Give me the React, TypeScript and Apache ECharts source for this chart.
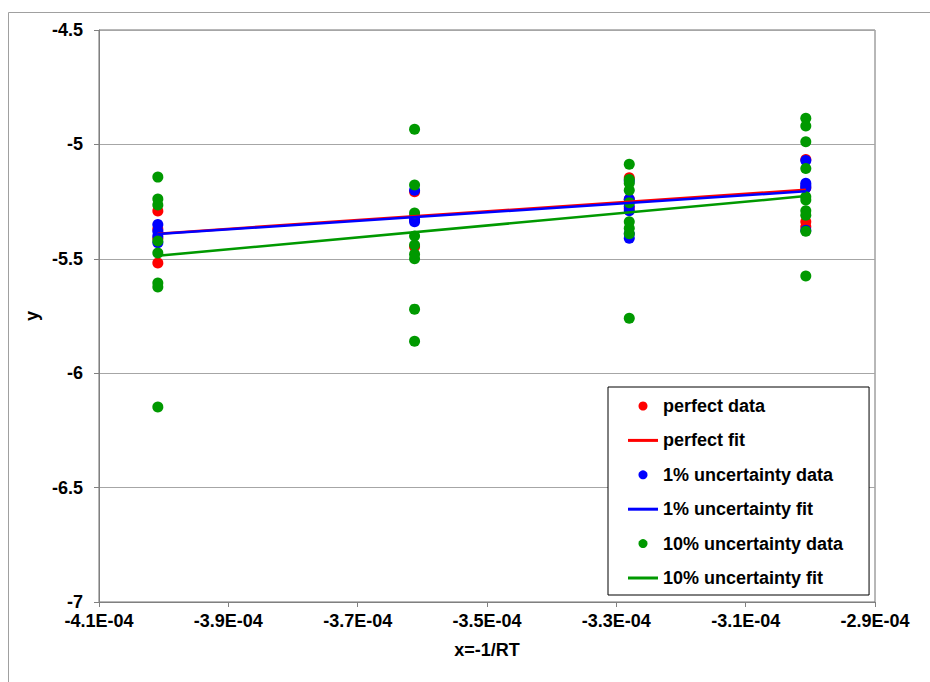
import React, { useEffect, useRef } from "react";
import * as echarts from "echarts";

// x = -1/RT for the four temperatures
const xValues = [-4.009e-4, -3.612e-4, -3.28e-4, -3.007e-4];

// y values measured at each x (one inner list per x)
const perfectData = [
  [-5.291, -5.37, -5.41, -5.518],
  [-5.207, -5.33, -5.447],
  [-5.146, -5.24, -5.28],
  [-5.066, -5.19, -5.338, -5.36],
];
const onePctData = [
  [-5.35, -5.38, -5.4, -5.43],
  [-5.2, -5.315, -5.328, -5.338],
  [-5.16, -5.24, -5.27, -5.29, -5.39, -5.41],
  [-5.07, -5.17, -5.18, -5.19, -5.375],
];
const tenPctData = [
  [-5.143, -5.239, -5.265, -5.422, -5.475, -5.606, -5.623, -6.148],
  [-4.934, -5.177, -5.3, -5.4, -5.44, -5.48, -5.5, -5.72, -5.86],
  [-5.087, -5.153, -5.17, -5.2, -5.255, -5.338, -5.367, -5.39, -5.76],
  [-4.886, -4.92, -4.988, -5.105, -5.229, -5.243, -5.29, -5.31, -5.38, -5.575],
];

// fitted line end points (at first and last x)
const perfectFit = [-5.39, -5.198];
const onePctFit = [-5.392, -5.205];
const tenPctFit = [-5.487, -5.226];

const seriesNames = [
  "perfect data",
  "perfect fit",
  "1% uncertainty data",
  "1% uncertainty fit",
  "10% uncertainty data",
  "10% uncertainty fit",
];

const RED = "#ff0000";
const BLUE = "#0000ff";
const GREEN = "#009900";
const FONT = '"Liberation Sans", Arial, sans-serif';
// plain stroke used as the legend key of a fitted line
const LINE_KEY = "path://M0,0 L30,0 L30,3 L0,3 Z";

function points(groups: number[][]) {
  const out: number[][] = [];
  groups.forEach((ys, i) => ys.forEach((y) => out.push([xValues[i], y])));
  return out;
}

function fitLine(ends: number[]) {
  return [
    [xValues[0], ends[0]],
    [xValues[xValues.length - 1], ends[1]],
  ];
}

function sci(v: number) {
  const [m, e] = v.toExponential(1).split("e");
  const n = parseInt(e, 10);
  return m + "E" + (n < 0 ? "-" : "+") + String(Math.abs(n)).padStart(2, "0");
}

export default function App() {
  const ref = useRef<HTMLDivElement>(null);

  useEffect(() => {
    if (!ref.current) return;
    const chart = echarts.init(ref.current, null, { renderer: "svg" });

    const scatter = (name: string, color: string, groups: number[][]) => ({
      name,
      type: "scatter",
      symbol: "circle",
      symbolSize: 11,
      itemStyle: { color, opacity: 1 },
      data: points(groups),
    });
    const line = (name: string, color: string, ends: number[]) => ({
      name,
      type: "line",
      symbol: "none",
      showSymbol: false,
      lineStyle: { color, width: 2.5 },
      itemStyle: { color },
      data: fitLine(ends),
    });

    chart.setOption({
      animation: false,
      backgroundColor: "#ffffff",
      textStyle: { fontFamily: FONT },
      graphic: [
        {
          type: "rect",
          z: -1,
          shape: { x: 8.5, y: 12.5, width: 960, height: 720 },
          style: { fill: "none", stroke: "#a0a0a0", lineWidth: 1 },
        },
      ],
      grid: {
        left: 99,
        top: 30,
        right: 55,
        bottom: 80,
        show: true,
        borderColor: "#707070",
        borderWidth: 1,
      },
      legend: {
        orient: "vertical",
        left: 608,
        top: 387,
        data: seriesNames.map((name, i) =>
          i % 2 === 0 ? { name, icon: "circle" } : { name, icon: LINE_KEY }
        ),
        itemWidth: 30,
        itemHeight: 9,
        itemGap: 14.4,
        padding: [9, 26, 7, 20],
        borderColor: "#000000",
        borderWidth: 1,
        backgroundColor: "#ffffff",
        selectedMode: false,
        textStyle: {
          fontFamily: FONT,
          fontSize: 18,
          fontWeight: "bold",
          color: "#000000",
          lineHeight: 20,
        },
      },
      xAxis: {
        type: "value",
        min: -4.1e-4,
        max: -2.9e-4,
        interval: 2e-5,
        name: "x=-1/RT",
        nameLocation: "middle",
        nameGap: 39,
        nameTextStyle: { fontFamily: FONT, fontSize: 18, fontWeight: "bold", color: "#000" },
        axisLine: { show: true, lineStyle: { color: "#808080", width: 1 } },
        axisTick: { show: true, inside: false, length: 5, lineStyle: { color: "#808080" } },
        splitLine: { show: false },
        axisLabel: {
          margin: 10,
          fontFamily: FONT,
          fontSize: 18,
          fontWeight: "bold",
          color: "#000",
          formatter: (v: number) => sci(v),
        },
      },
      yAxis: {
        type: "value",
        min: -7,
        max: -4.5,
        interval: 0.5,
        name: "y",
        nameLocation: "middle",
        nameGap: 55,
        nameTextStyle: { fontFamily: FONT, fontSize: 18, fontWeight: "bold", color: "#000" },
        axisLine: { show: true, lineStyle: { color: "#808080", width: 1 } },
        axisTick: { show: true, inside: false, length: 5, lineStyle: { color: "#808080" } },
        splitLine: { show: true, lineStyle: { color: "#a6a6a6", width: 1 } },
        axisLabel: {
          margin: 16,
          fontFamily: FONT,
          fontSize: 18,
          fontWeight: "bold",
          color: "#000",
        },
      },
      series: [
        scatter(seriesNames[0], RED, perfectData),
        line(seriesNames[1], RED, perfectFit),
        scatter(seriesNames[2], BLUE, onePctData),
        line(seriesNames[3], BLUE, onePctFit),
        scatter(seriesNames[4], GREEN, tenPctData),
        line(seriesNames[5], GREEN, tenPctFit),
      ],
    });

    return () => chart.dispose();
  }, []);

  return (
    <div
      ref={ref}
      style={{ position: "absolute", left: 0, top: 0, width: 930, height: 682, background: "#fff" }}
    />
  );
}
